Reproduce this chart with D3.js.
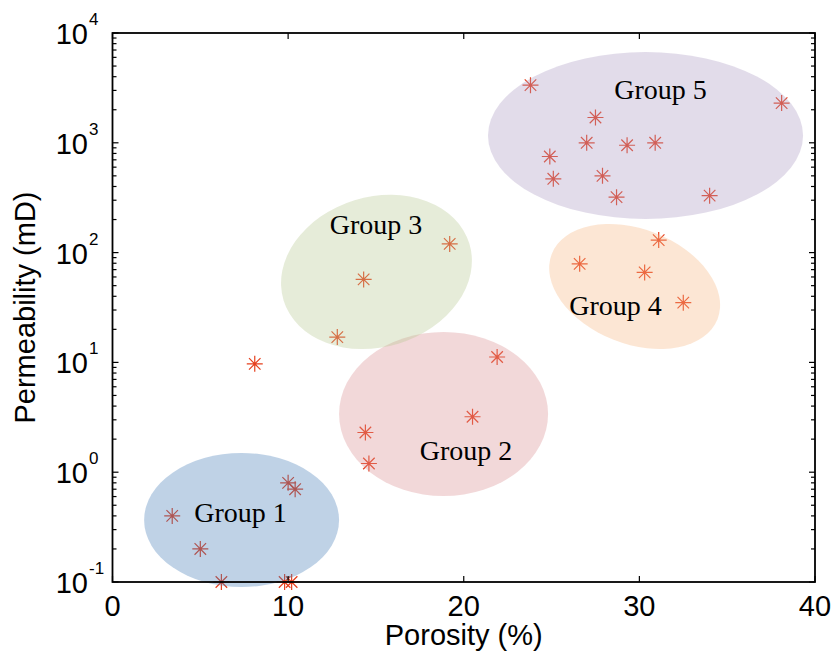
<!DOCTYPE html>
<html>
<head>
<meta charset="utf-8">
<script src="https://cdn.jsdelivr.net/npm/d3@7"></script>
<style>
  body { margin: 0; background: #fff; }
</style>
</head>
<body>
<div id="chart"></div>
<script>
// samples: porosity (%) and permeability (mD)
const porosity = [3.4, 5.0, 6.2, 9.8, 10.2, 10.0, 10.4,
                  8.1,
                  21.9, 20.5, 14.4, 14.6,
                  19.2, 14.3, 12.8,
                  31.1, 26.6, 30.3, 32.5,
                  23.8, 38.1, 27.5, 27.0, 29.3, 30.9, 24.9, 25.1, 27.9, 28.7, 34.0];
const permeability = [0.4, 0.2, 0.1, 0.1, 0.1, 0.8, 0.7,
                      9.7,
                      11.2, 3.2, 2.3, 1.2,
                      120, 57, 17,
                      130, 79, 66, 35,
                      3350, 2300, 1700, 1000, 950, 1000, 750, 470, 500, 320, 330];

// group outlines (centre, half width in % porosity, half height in decades, tilt)
const groupNames = ["Group 1", "Group 2", "Group 3", "Group 4", "Group 5"];
const groupPorosity = [7.35, 18.85, 15.03, 29.73, 30.35];
const groupPermeability = [0.367, 3.39, 66.6, 49.1, 1165];
const groupHalfWidth = [5.55, 5.95, 5.53, 5.07, 8.97];
const groupHalfDecades = [0.61, 0.747, 0.683, 0.522, 0.76];
const groupTilt = [0, 0, -17, 21.5, 0];
const labelPorosity = [7.29, 20.13, 15.0, 28.64, 31.2];
const labelPermeability = [0.351, 1.29, 147.6, 27.0, 2505];

const xTicks = [0, 10, 20, 30, 40];
const yExponents = [-1, 0, 1, 2, 3, 4];

const groupColors = ["rgb(72,126,184)", "rgb(218,143,146)", "rgb(184,201,146)",
                     "rgb(246,183,132)", "rgb(172,155,195)"];
const markerColor = "#e6401e";

const width = 835, height = 658;
const plotLeft = 112.5, plotRight = 815, plotTop = 33, plotBottom = 582;

const svg = d3.select("#chart").append("svg")
    .attr("width", width)
    .attr("height", height);

const x = d3.scaleLinear().domain([0, 40]).range([plotLeft, plotRight]);
const y = d3.scaleLog().domain([0.1, 1e4]).range([plotBottom, plotTop]);
const decade = (y(1) - y(10));

// markers (drawn first, the tinted ovals sit on top of them)
const pts = porosity.map((p, i) => [p, permeability[i]]);
const r = 8, rd = r * 0.72;
const mk = svg.append("g")
    .attr("stroke", markerColor)
    .attr("stroke-width", 1.2)
    .selectAll("g")
    .data(pts)
    .join("g")
    .attr("transform", d => `translate(${x(d[0])},${y(d[1])})`);
mk.append("path")
    .attr("d", `M${-r},0H${r}M0,${-r}V${r}M${-rd},${-rd}L${rd},${rd}M${-rd},${rd}L${rd},${-rd}`);

// ovals
svg.append("g")
    .selectAll("ellipse")
    .data(groupNames)
    .join("ellipse")
    .attr("transform", (d, i) => `translate(${x(groupPorosity[i])},${y(groupPermeability[i])}) rotate(${groupTilt[i]})`)
    .attr("rx", (d, i) => x(groupHalfWidth[i]) - x(0))
    .attr("ry", (d, i) => groupHalfDecades[i] * decade)
    .attr("fill", (d, i) => groupColors[i])
    .attr("fill-opacity", 0.35);

// frame
svg.append("rect")
    .attr("x", plotLeft).attr("y", plotTop)
    .attr("width", plotRight - plotLeft).attr("height", plotBottom - plotTop)
    .attr("fill", "none")
    .attr("stroke", "#000")
    .attr("stroke-width", 1.8);

// ticks, all pointing inward
const tk = svg.append("g").attr("stroke", "#000").attr("stroke-width", 1.2);
xTicks.forEach(t => {
    tk.append("line").attr("x1", x(t)).attr("x2", x(t)).attr("y1", plotBottom).attr("y2", plotBottom - 6);
    tk.append("line").attr("x1", x(t)).attr("x2", x(t)).attr("y1", plotTop).attr("y2", plotTop + 6);
});
yExponents.forEach(e => {
    for (let m = 1; m <= 9; m++) {
        const v = m * Math.pow(10, e);
        if (v > 1e4) break;
        const len = m === 1 ? 6 : 4;
        tk.append("line").attr("x1", plotLeft).attr("x2", plotLeft + len).attr("y1", y(v)).attr("y2", y(v));
        tk.append("line").attr("x1", plotRight).attr("x2", plotRight - len).attr("y1", y(v)).attr("y2", y(v));
    }
});

// tick labels
const font = "'Liberation Sans', Arial, sans-serif";
svg.append("g")
    .selectAll("text")
    .data(xTicks)
    .join("text")
    .attr("x", d => x(d))
    .attr("y", 616)
    .attr("text-anchor", "middle")
    .attr("font-family", font)
    .attr("font-size", 29)
    .text(d => d);

const yl = svg.append("g")
    .selectAll("g")
    .data(yExponents)
    .join("g")
    .attr("transform", d => `translate(0,${y(Math.pow(10, d))})`)
    .attr("font-family", font);
yl.append("text")
    .attr("x", 88).attr("y", 11)
    .attr("text-anchor", "end")
    .attr("font-size", 29)
    .text("10");
yl.append("text")
    .attr("x", 89).attr("y", -8)
    .attr("font-size", 17)
    .text(d => d);

// axis titles
svg.append("text")
    .attr("x", (plotLeft + plotRight) / 2)
    .attr("y", 645)
    .attr("text-anchor", "middle")
    .attr("font-family", font)
    .attr("font-size", 29)
    .text("Porosity (%)");
svg.append("text")
    .attr("transform", `translate(35,${(plotTop + plotBottom) / 2}) rotate(-90)`)
    .attr("text-anchor", "middle")
    .attr("font-family", font)
    .attr("font-size", 29)
    .text("Permeability (mD)");

// group labels
svg.append("g")
    .selectAll("text")
    .data(groupNames)
    .join("text")
    .attr("x", (d, i) => x(labelPorosity[i]))
    .attr("y", (d, i) => y(labelPermeability[i]))
    .attr("text-anchor", "middle")
    .attr("font-family", "'Liberation Serif', 'Times New Roman', serif")
    .attr("font-size", 28)
    .text(d => d);
</script>
</body>
</html>
